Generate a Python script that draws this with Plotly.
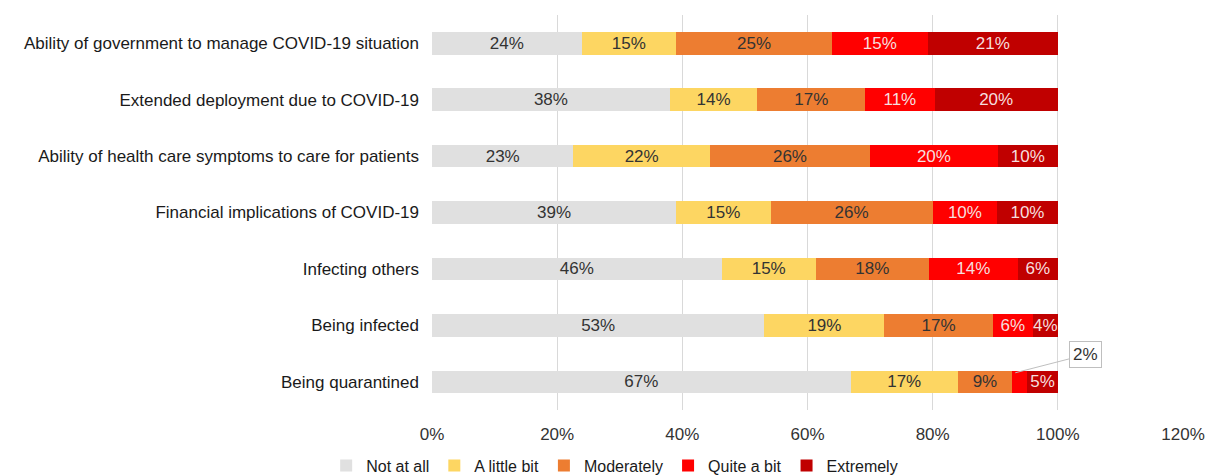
import plotly.graph_objects as go

categories = [
    "Ability of government to manage COVID-19 situation",
    "Extended deployment due to COVID-19",
    "Ability of health care symptoms to care for patients",
    "Financial implications of COVID-19",
    "Infecting others",
    "Being infected",
    "Being quarantined",
]
series_names = ["Not at all", "A little bit", "Moderately", "Quite a bit", "Extremely"]
not_at_all = [23.9, 38.0, 22.6, 39.0, 46.3, 53.1, 66.9]
a_little_bit = [15.1, 14.0, 21.8, 15.1, 15.0, 19.2, 17.1]
moderately = [24.9, 17.2, 25.6, 25.9, 18.1, 17.3, 8.7]
quite_a_bit = [15.3, 11.1, 20.4, 10.3, 14.2, 6.4, 2.4]
extremely = [20.8, 19.7, 9.6, 9.7, 6.4, 4.0, 4.9]
tick_values = [0, 20, 40, 60, 80, 100, 120]
tick_labels = ["0%", "20%", "40%", "60%", "80%", "100%", "120%"]

colors = ["#e0e0e0", "#fdd662", "#ed7d31", "#ff0000", "#c00000"]
text_colors = ["#333333", "#333333", "#333333", "#f6dede", "#f6dede"]
series = [not_at_all, a_little_bit, moderately, quite_a_bit, extremely]

FONT = "Liberation Sans, Arial, sans-serif"
FS = 17

fig = go.Figure()
for name, vals, col, tcol in zip(series_names, series, colors, text_colors):
    texts = [f"{round(v)}%" for v in vals]
    if name == "Quite a bit":
        texts[-1] = ""  # shown as callout
    fig.add_trace(go.Bar(
        y=categories, x=vals, name=name, orientation="h",
        marker=dict(color=col, line=dict(width=0)),
        text=texts, textposition="inside", insidetextanchor="middle",
        textangle=0, constraintext="none",
        textfont=dict(family=FONT, size=FS, color=tcol),
        hoverinfo="skip",
    ))

fig.add_annotation(
    x=93.2, y=5.84, xref="x", yref="y",
    text="2%", showarrow=True, arrowhead=0, arrowwidth=1, arrowcolor="#bfbfbf",
    ax=70, ay=-18, bordercolor="#bfbfbf", borderwidth=1, borderpad=3,
    bgcolor="white", font=dict(family=FONT, size=FS, color="#333333"),
)

fig.update_layout(
    barmode="stack", bargap=0.6,
    width=1210, height=475,
    margin=dict(l=432, r=27, t=15, b=65, autoexpand=False),
    paper_bgcolor="white", plot_bgcolor="white",
    font=dict(family=FONT, size=FS, color="#333333"),
    uniformtext=dict(mode="show", minsize=FS),
    legend=dict(
        orientation="h", xref="container", yref="container",
        x=0.508, xanchor="center", y=0.02, yanchor="middle",
        font=dict(family=FONT, size=16, color="#1a1a1a"),
        itemwidth=30, traceorder="normal",
    ),
    showlegend=True,
)
fig.update_xaxes(
    range=[0, 120], tickvals=tick_values, ticktext=tick_labels,
    showgrid=True, gridcolor="#d9d9d9", gridwidth=1, zeroline=False,
    showline=False, ticks="", ticklabelstandoff=12, automargin=False,
    tickfont=dict(family=FONT, size=FS, color="#333333"),
    fixedrange=True,
)
fig.update_yaxes(
    autorange="reversed", showgrid=False, showline=False, ticks="",
    ticklabelstandoff=12, automargin=False,
    tickfont=dict(family=FONT, size=FS, color="#1a1a1a"),
    fixedrange=True,
)

fig.write_html("out.html", config={"displayModeBar": False})
